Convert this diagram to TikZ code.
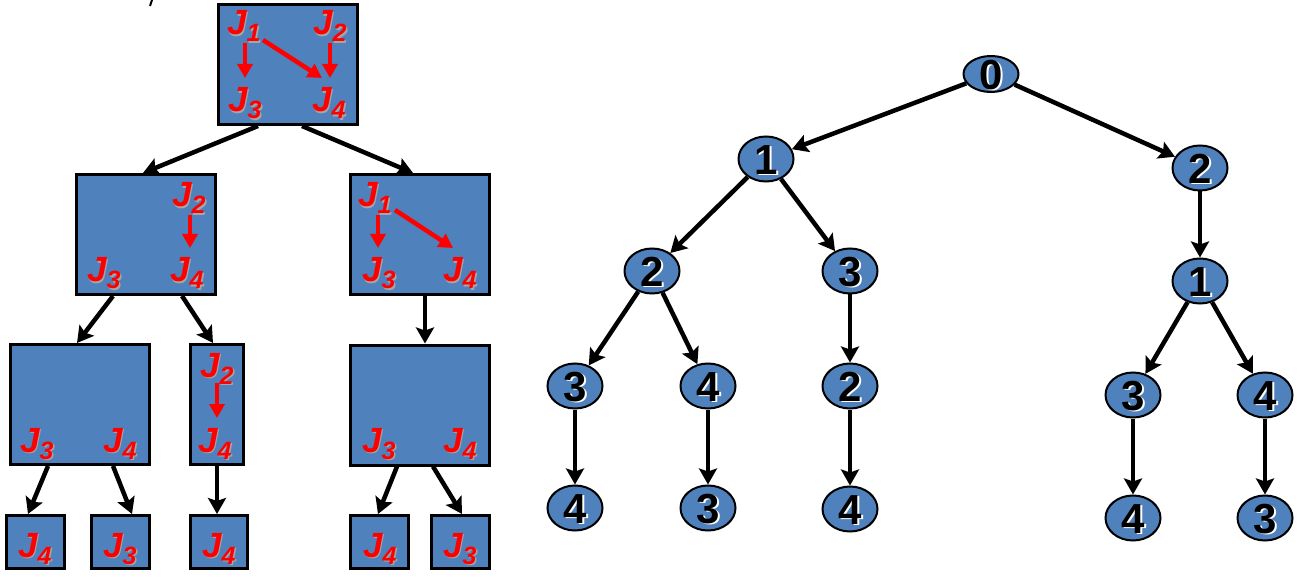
\documentclass[tikz,border=0pt]{standalone}
\usepackage{fontspec}
\setmainfont{Liberation Sans}
\usetikzlibrary{arrows.meta,shapes.geometric,calc}
\definecolor{boxblue}{HTML}{4F81BD}
\definecolor{jshade}{HTML}{A6A6A6}
% job name with subscript, e.g. J_3
\newcommand\jtext[1]{J\raisebox{-7pt}{\fontsize{25}{25}\selectfont #1}}
% red job label with a soft grey shadow
\newcommand\jlabel[1]{\rlap{\hspace{1.5pt}\raisebox{-1.5pt}{\color{jshade}\jtext{#1}}}{\color{red}\jtext{#1}}}
% tree digit with white highlight, zero-size box so the ellipse keeps its size
\newcommand\dig[1]{\raisebox{-0.358em}[0pt][0pt]{\rlap{\hspace{2pt}\raisebox{-1pt}{\color{white}#1}}{\color{black}#1}}}
\begin{document}
\begin{tikzpicture}[x=1pt,y=-1pt,
  box/.style={draw, line width=3pt, fill=boxblue, inner sep=0pt,
    minimum width=139pt, minimum height=120pt},
  leaf/.style={box, minimum width=58pt, minimum height=53pt},
  jl/.style={anchor=base west, inner sep=0pt,
    font=\fontsize{35}{35}\selectfont\bfseries\itshape},
  arr/.style={line width=4.5pt, -{Stealth[length=16pt,width=18pt,inset=3pt]}},
  redarr/.style={red, line width=4.5pt, -{Triangle[length=14pt,width=15pt]}},
  tnode/.style={ellipse, draw, line width=2pt, fill=boxblue, inner sep=0pt,
    minimum width=55pt, minimum height=45pt,
    font=\fontsize{42}{42}\selectfont\bfseries}]
\useasboundingbox (0,0) rectangle (1301,577);

% stray pen stroke near the top edge
\draw[line width=2pt] (152,0) -- (150,6);

% ---------- left tree: precedence sub-graphs ----------
\node[box] (T) at (288,64.5) {};
\node[box] (A) at (146,234.5) {};
\node[box] (B) at (420,234.5) {};
\node[box] (C) at (80,404.5) {};
\node[box, minimum width=53pt] (D) at (217,404.5) {};
\node[box] (E) at (420,405) {};
\node[leaf] (F1) at (35.5,542) {};
\node[leaf] (F2) at (120.5,542) {};
\node[leaf, minimum width=57pt] (F3) at (219,542) {};
\node[leaf] (F4) at (379.5,542) {};
\node[leaf] (F5) at (460.5,542) {};

% job labels
\node[jl] (tJ1) at (227,35) {\jlabel{1}};
\node[jl] (tJ2) at (313,35) {\jlabel{2}};
\node[jl] (tJ3) at (228,112) {\jlabel{3}};
\node[jl] (tJ4) at (312,112) {\jlabel{4}};

\node[jl] (aJ2) at (172,207) {\jlabel{2}};
\node[jl] (aJ3) at (87,282) {\jlabel{3}};
\node[jl] (aJ4) at (170,282) {\jlabel{4}};

\node[jl] (bJ1) at (358,207) {\jlabel{1}};
\node[jl] (bJ3) at (362,282) {\jlabel{3}};
\node[jl] (bJ4) at (443,282) {\jlabel{4}};

\node[jl] (cJ3) at (20,452) {\jlabel{3}};
\node[jl] (cJ4) at (103,452) {\jlabel{4}};

\node[jl] (dJ2) at (200,377) {\jlabel{2}};
\node[jl] (dJ4) at (198,452) {\jlabel{4}};

\node[jl] (eJ3) at (362,452) {\jlabel{3}};
\node[jl] (eJ4) at (443,452) {\jlabel{4}};

\node[jl] (f1J) at (18,557) {\jlabel{4}};
\node[jl] (f2J) at (103,557) {\jlabel{3}};
\node[jl] (f3J) at (202,557) {\jlabel{4}};
\node[jl] (f4J) at (363,557) {\jlabel{4}};
\node[jl] (f5J) at (443,557) {\jlabel{3}};

% precedence arcs
\draw[redarr] ($(tJ1.base west)+(18,8)$) -- ($(tJ3.base west)+(17,-34)$);
\draw[redarr] ($(tJ2.base west)+(17,8)$) -- ($(tJ4.base west)+(18,-34)$);
\draw[redarr] ($(tJ1.base west)+(36,5)$) -- ($(tJ4.base west)+(10,-34)$);
\draw[redarr] ($(aJ2.base west)+(18,8)$) -- ($(aJ4.base west)+(20,-34)$);
\draw[redarr] ($(bJ1.base west)+(20,8)$) -- ($(bJ3.base west)+(16,-34)$);
\draw[redarr] ($(bJ1.base west)+(37,3)$) -- ($(bJ4.base west)+(10,-34)$);
\draw[redarr] ($(dJ2.base west)+(17,6)$) -- ($(dJ4.base west)+(19,-34)$);

% tree edges
\draw[arr] ([xshift=-30pt]T.south) -- ([xshift=-3pt]A.north);
\draw[arr] ([xshift=14pt]T.south) -- ([xshift=-7pt]B.north);
\draw[arr] ([xshift=-33pt]A.south) -- ([xshift=-3pt]C.north);
\draw[arr] ([xshift=36pt]A.south) -- ([xshift=-4pt]D.north);
\draw[arr] ([xshift=5pt]B.south) -- ([xshift=5pt]E.north);
\draw[arr] ([xshift=-32pt]C.south) -- ([xshift=-7.5pt]F1.north);
\draw[arr] ([xshift=33pt]C.south) -- ([xshift=11.5pt]F2.north);
\draw[arr] (D.south) -- ([xshift=-2pt]F3.north);
\draw[arr] ([xshift=-23pt]E.south) -- ([xshift=-1.5pt]F4.north);
\draw[arr] ([xshift=13pt]E.south) -- ([xshift=1.5pt]F5.north);

% ---------- right tree: sequences ----------
\node[tnode, minimum height=36pt] (n0) at (991,74) {\dig{0}};
\node[tnode] (n1) at (766,159) {\dig{1}};
\node[tnode] (n2) at (1200,168) {\dig{2}};
\node[tnode] (n12) at (652,271) {\dig{2}};
\node[tnode] (n13) at (850,271) {\dig{3}};
\node[tnode] (n21) at (1200,281) {\dig{1}};
\node[tnode] (n123) at (575,386) {\dig{3}};
\node[tnode] (n124) at (708,386) {\dig{4}};
\node[tnode] (n132) at (850,386) {\dig{2}};
\node[tnode] (n213) at (1133,395) {\dig{3}};
\node[tnode] (n214) at (1265,395) {\dig{4}};
\node[tnode] (n1234) at (575,508) {\dig{4}};
\node[tnode] (n1243) at (708,508) {\dig{3}};
\node[tnode] (n1324) at (850,509) {\dig{4}};
\node[tnode] (n2134) at (1133,518) {\dig{4}};
\node[tnode] (n2143) at (1265,518) {\dig{3}};

\draw[arr] (n0) -- (n1);
\draw[arr] (n0) -- (n2);
\draw[arr] (n1) -- (n12);
\draw[arr] (n1) -- (n13);
\draw[arr] (n2) -- (n21);
\draw[arr] (n12) -- (n123);
\draw[arr] (n12) -- (n124);
\draw[arr] (n13) -- (n132);
\draw[arr] (n21) -- (n213);
\draw[arr] (n21) -- (n214);
\draw[arr] (n123) -- (n1234);
\draw[arr] (n124) -- (n1243);
\draw[arr] (n132) -- (n1324);
\draw[arr] (n213) -- (n2134);
\draw[arr] (n214) -- (n2143);
\end{tikzpicture}
\end{document}
